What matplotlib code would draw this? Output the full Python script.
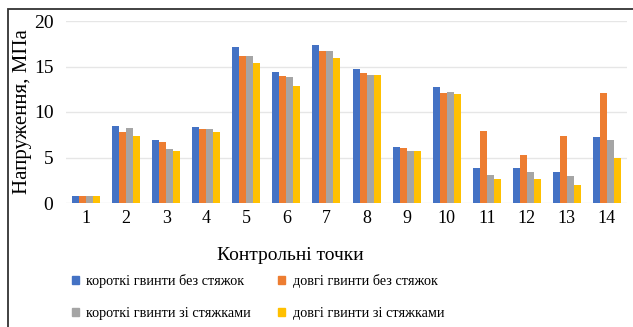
import numpy as np
import matplotlib
matplotlib.use('Agg')
import matplotlib.pyplot as plt
from matplotlib.patches import Patch, Rectangle

# Data
points = [str(i) for i in range(1, 15)]
short_no_ties = [0.8, 8.5, 6.9, 8.3, 17.1, 14.4, 17.4, 14.7, 6.2, 12.8, 3.8, 3.8, 3.4, 7.2]
long_no_ties = [0.8, 7.8, 6.7, 8.1, 16.1, 14.0, 16.7, 14.3, 6.0, 12.1, 7.9, 5.3, 7.4, 12.1]
short_ties = [0.8, 8.2, 5.9, 8.1, 16.1, 13.8, 16.7, 14.1, 5.7, 12.2, 3.1, 3.4, 3.0, 6.9]
long_ties = [0.8, 7.4, 5.7, 7.8, 15.4, 12.9, 15.9, 14.1, 5.7, 12.0, 2.6, 2.6, 2.0, 5.0]

labels = ['короткі гвинти без стяжок', 'довгі гвинти без стяжок',
          'короткі гвинти зі стяжками', 'довгі гвинти зі стяжками']
colors = ['#4472C4', '#ED7D31', '#A5A5A5', '#FFC000']
series = [short_no_ties, long_no_ties, short_ties, long_ties]

plt.rcParams['font.family'] = ['Liberation Serif', 'DejaVu Serif']

fig = plt.figure(figsize=(6.33, 3.27), dpi=100)
ax = fig.add_axes([66 / 633, 1 - 203 / 327, 561 / 633, 182 / 327])

x = np.arange(len(points))
w = 0.175
for i, (vals, col) in enumerate(zip(series, colors)):
    ax.bar(x + (i - 1.5) * w, vals, width=w, color=col, zorder=3)

ax.set_xlim(-0.5, len(points) - 0.5)
ax.set_ylim(0, 20)
ax.set_yticks([0, 5, 10, 15, 20])
ax.set_xticks(x)
ax.set_xticklabels(points)
ax.tick_params(axis='x', length=0, labelsize=13, pad=5)
ax.tick_params(axis='y', length=0, labelsize=14, pad=9)
ax.grid(axis='y', color='#e6e6e6', linewidth=1, zorder=0)
for s in ax.spines.values():
    s.set_visible(False)

ax.set_ylabel('Напруження, МПа', fontsize=15, labelpad=1)
fig.text(290 / 633, 1 - 255 / 327, 'Контрольні точки', fontsize=14,
         ha='center', va='center')

# legend is filled row by row in the original
handles = [Patch(color=c, label=l) for c, l in zip(colors, labels)]
order = [0, 2, 1, 3]
fig.legend(handles=[handles[k] for k in order], ncol=2, loc='upper left',
           bbox_to_anchor=(72 / 633, 1 - 274 / 327), frameon=False,
           fontsize=10.3, handlelength=0.5, handleheight=0.5,
           handletextpad=0.5, labelspacing=1.35, columnspacing=1.9,
           borderaxespad=0, borderpad=0)

# frame around the figure (cropped at the bottom)
fig.patches.append(Rectangle((8 / 633, -0.1), 1.0, 1.1 - 9 / 327,
                             transform=fig.transFigure, fill=False,
                             edgecolor='#333333', linewidth=1.3))

fig.savefig('out.png', dpi=100)
